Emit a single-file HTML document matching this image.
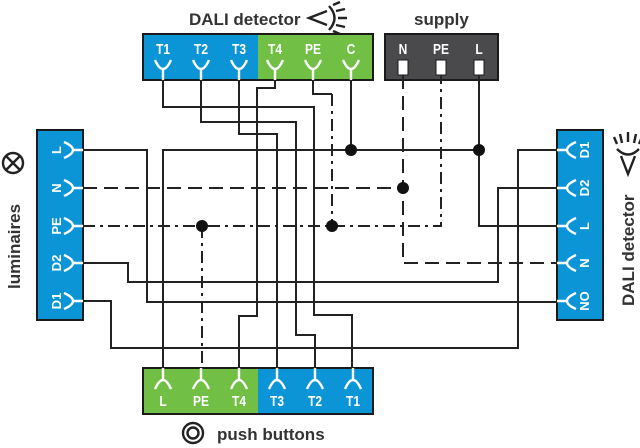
<!DOCTYPE html>
<html><head><meta charset="utf-8"><style>
html,body{margin:0;padding:0;background:#fff;}
svg{display:block;}
.t{font-family:"Liberation Sans",sans-serif;font-weight:bold;fill:#fff;font-size:15px;}
.c text{transform-box:fill-box;transform-origin:center;transform:scaleX(.8);}
.s{font-family:"Liberation Sans",sans-serif;font-weight:bold;fill:#fff;font-size:13px;}
.h{font-family:"Liberation Sans",sans-serif;font-weight:bold;fill:#333;font-size:17px;}
</style></head><body>
<svg width="640" height="448" viewBox="0 0 640 448" xmlns="http://www.w3.org/2000/svg">
<rect x="143" y="34" width="115" height="46" fill="#0b94d6"/>
<rect x="258" y="34" width="115" height="46" fill="#71bf44"/>
<rect x="143" y="34" width="230" height="46" fill="none" stroke="#1a1a1a" stroke-width="2"/>
<rect x="385" y="34" width="113" height="46" fill="#4a4a4c" stroke="#1a1a1a" stroke-width="2"/>
<rect x="37" y="130" width="46" height="190" fill="#0b94d6" stroke="#1a1a1a" stroke-width="2"/>
<rect x="557" y="130" width="46" height="190" fill="#0b94d6" stroke="#1a1a1a" stroke-width="2"/>
<rect x="143" y="368" width="115" height="46" fill="#71bf44"/>
<rect x="258" y="368" width="115" height="46" fill="#0b94d6"/>
<rect x="143" y="368" width="230" height="46" fill="none" stroke="#1a1a1a" stroke-width="2"/>

<g class="t c" text-anchor="middle">
<text x="163" y="54">T1</text><text x="201" y="54">T2</text><text x="239" y="54">T3</text>
<text x="275" y="54">T4</text><text x="313" y="54">PE</text><text x="351" y="54">C</text>
<text x="403" y="54">N</text><text x="441" y="54">PE</text><text x="479" y="54">L</text>
<text x="163" y="406">L</text><text x="201" y="406">PE</text><text x="239" y="406">T4</text>
<text x="277" y="406">T3</text><text x="315" y="406">T2</text><text x="353" y="406">T1</text>
</g>
<g class="s" text-anchor="middle">
<text transform="translate(56,150) rotate(-90)" dy="5">L</text>
<text transform="translate(56,188) rotate(-90)" dy="5">N</text>
<text transform="translate(56,226) rotate(-90)" dy="5">PE</text>
<text transform="translate(56,263) rotate(-90)" dy="5">D2</text>
<text transform="translate(56,301) rotate(-90)" dy="5">D1</text>
<text transform="translate(584,150) rotate(-90)" dy="5">D1</text>
<text transform="translate(584,188) rotate(-90)" dy="5">D2</text>
<text transform="translate(584,226) rotate(-90)" dy="5">L</text>
<text transform="translate(584,263) rotate(-90)" dy="5">N</text>
<text transform="translate(584,301) rotate(-90)" dy="5">NO</text>
</g>

<g fill="none" stroke="#fff" stroke-width="2.4">
<path d="M155,60 Q163,78 171,60 M163,69 V80 M193,60 Q201,78 209,60 M201,69 V80 M231,60 Q239,78 247,60 M239,69 V80 M267,60 Q275,78 283,60 M275,69 V80 M305,60 Q313,78 321,60 M313,69 V80 M343,60 Q351,78 359,60 M351,69 V80"/>
<path d="M155,389 Q163,371 171,389 M163,380 V368 M193,389 Q201,371 209,389 M201,380 V368 M231,389 Q239,371 247,389 M239,380 V368 M269,389 Q277,371 285,389 M277,380 V368 M307,389 Q315,371 323,389 M315,380 V368 M345,389 Q353,371 361,389 M353,380 V368"/>
<path d="M64,142 Q82,150 64,158 M73,150 H83 M64,180 Q82,188 64,196 M73,188 H83 M64,218 Q82,226 64,234 M73,226 H83 M64,255 Q82,263 64,271 M73,263 H83 M64,293 Q82,301 64,309 M73,301 H83"/>
<path d="M576,142 Q558,150 576,158 M567,150 H557 M576,180 Q558,188 576,196 M567,188 H557 M576,218 Q558,226 576,234 M567,226 H557 M576,255 Q558,263 576,271 M567,263 H557 M576,293 Q558,301 576,309 M567,301 H557"/>
</g>
<g fill="#fff" stroke="#1a1a1a" stroke-width="1">
<rect x="398" y="60" width="10" height="15"/><rect x="436" y="60" width="10" height="15"/><rect x="474" y="60" width="10" height="15"/>
</g>

<g fill="none" stroke="#222" stroke-width="2">
<path d="M163,80 V107 H314 V315 H352 V368"/>
<path d="M201,80 V122 H296 V335 H315 V368"/>
<path d="M239,80 V134 H277 V368"/>
<path d="M275,80 V88 H257 V316 H239 V368"/>
<path d="M313,80 V94 H332"/>
<path d="M351,80 V150"/>
<path d="M479,75 V226 H557"/>
<path d="M83,150 H147 V302 H557"/>
<path d="M163,368 V150 H479"/>
<path d="M83,263 H128 V282 H498 V188 H557"/>
<path d="M83,301 H111 V348 H518 V150 H557"/>
</g>
<g fill="none" stroke="#222" stroke-width="2" stroke-dasharray="14,7">
<path d="M83,188 H403"/>
<path d="M403,75 V263 H557"/>
</g>
<g fill="none" stroke="#222" stroke-width="2" stroke-dasharray="12,5,3,5">
<path d="M83,226 H441 V75"/>
<path d="M332,94 V226"/>
<path d="M202,226 V368"/>
</g>
<g fill="#111">
<circle cx="351" cy="150" r="6"/><circle cx="479" cy="150" r="6"/>
<circle cx="403" cy="188" r="6"/><circle cx="332" cy="226" r="6"/><circle cx="202" cy="226" r="6"/>
</g>

<text class="h" x="189" y="25">DALI detector</text>
<text class="h" x="414" y="25">supply</text>
<text class="h" x="217" y="440">push buttons</text>
<text class="h" transform="translate(20,289) rotate(-90)">luminaires</text>
<text class="h" transform="translate(634,306) rotate(-90)">DALI detector</text>

<g fill="none" stroke="#222" stroke-width="2.4">
<path d="M327,11 L309,18 L327,25"/>
<path d="M329,6 Q340,18 329,30"/>
<path d="M333,5 L340,2 M336,11 L345,9 M338,18 H347 M336,25 L345,27 M333,31 L340,34"/>
<path d="M621,156 L628,174 L635,156"/>
<path d="M617,149 Q628,160 639,149"/>
<path d="M617,144 L614,137 M622,143 L620,134 M628,142 V132 M634,143 L636,134 M639,144 L642,137"/>
<circle cx="13" cy="163" r="10"/>
<path d="M6,156 L20,170 M20,156 L6,170"/>
<circle cx="193" cy="433" r="10"/>
<circle cx="193" cy="433" r="5.5"/>
</g>
</svg>
</body></html>
